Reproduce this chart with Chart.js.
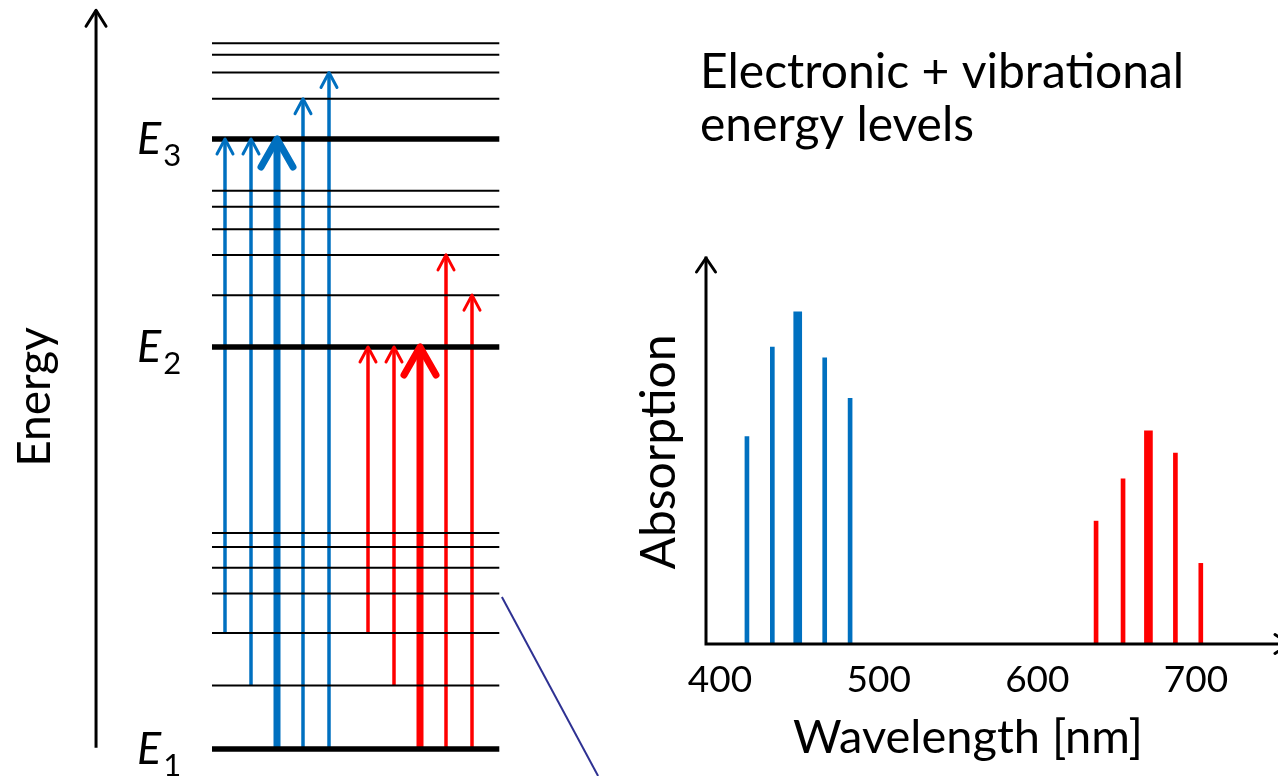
<!DOCTYPE html>
<html>
<head>
<meta charset="utf-8">
<script src="https://cdn.jsdelivr.net/npm/chart.js@4.4.1/dist/chart.umd.min.js"></script>
<style>
  html, body { margin: 0; padding: 0; background: #fff; }
  #wrap { position: relative; width: 1278px; height: 776px; overflow: hidden; }
  #levels { position: absolute; left: 0; top: 0; }
  #spectrum { position: absolute; left: 600px; top: 0; }
</style>
</head>
<body>
<div id="wrap">
  <canvas id="levels" width="600" height="776"></canvas>
  <canvas id="spectrum" width="678" height="776"></canvas>
</div>
<script>
// ---- energy diagram (arbitrary units, E1 = 0, E3 = 100) ----
const electronicLevels = [0, 65.9, 100];
const electronicNames = ['1', '2', '3'];
const vibrationalLevels = [10.4, 19.0, 25.5, 29.7, 33.1, 35.4,
                           74.4, 81.0, 85.2, 88.9, 91.5,
                           106.6, 110.9, 113.8, 115.7];

// transitions: column, start level, end level
const blueColumns = [0.5, 1.5, 2.5, 3.5, 4.5];
const blueFrom = [19.0, 10.4, 0, 0, 0];
const blueTo = [100, 100, 100, 106.6, 110.9];
const redColumns = [6, 7, 8, 9, 10];
const redFrom = [19.0, 10.4, 0, 0, 0];
const redTo = [65.9, 65.9, 65.9, 81.0, 74.4];
const strongest = 2;

// ---- absorption spectrum ----
const wavelengthTicks = [400, 500, 600, 700];
const blueWavelengths = [417, 433, 449, 466, 482];
const blueAbsorption = [54, 77.3, 86.5, 74.5, 64];
const redWavelengths = [637, 654, 670, 687, 703];
const redAbsorption = [32, 43, 55.5, 49.7, 21];

const BLUE = '#0070C0';
const RED = '#FF0000';
const NAVY = '#2E3192';
const FONT = 'Lato, "Open Sans", sans-serif';

const LINE_END = 11.05;     // right end of level lines (column units)
const AXIS_COL = -4.46;     // energy axis position
const AXIS_TOP = 121.1;

function segment(x1, y1, x2, y2, color, width, head) {
    return {
        data: [{x: x1, y: y1}, {x: x2, y: y2}],
        borderColor: color,
        borderWidth: width,
        showLine: true,
        pointRadius: 0,
        borderCapStyle: 'butt',
        head: head
    };
}

const thinHead = {w: 8, l: 15, lw: 3};
const thickHead = {w: 16, l: 28, lw: 7};

const levelSets = [];
electronicLevels.forEach(e => levelSets.push(segment(0, e, LINE_END, e, '#000', 5.5)));
vibrationalLevels.forEach(e => levelSets.push(segment(0, e, LINE_END, e, '#000', 2)));

const arrowSets = [];
blueColumns.forEach((c, i) => {
    const strong = i === strongest;
    arrowSets.push(segment(c, blueFrom[i], c, blueTo[i], BLUE, strong ? 7 : 3.5, strong ? thickHead : thinHead));
});
redColumns.forEach((c, i) => {
    const strong = i === strongest;
    arrowSets.push(segment(c, redFrom[i], c, redTo[i], RED, strong ? 7 : 3.5, strong ? thickHead : thinHead));
});

const extraSets = [
    segment(AXIS_COL, 0.2, AXIS_COL, AXIS_TOP, '#000', 3, {w: 10, l: 16, lw: 3}),
    segment(11.15, 24.9, 14.85, -4.43, NAVY, 2)
];

function drawHead(ctx, tip, tail, color, h) {
    const a = Math.atan2(tip.y - tail.y, tip.x - tail.x);
    const c = Math.cos(a), s = Math.sin(a);
    ctx.save();
    ctx.strokeStyle = color;
    ctx.lineWidth = h.lw;
    ctx.lineCap = 'round';
    ctx.lineJoin = 'round';
    ctx.beginPath();
    ctx.moveTo(tip.x - h.l * c - h.w * s, tip.y - h.l * s + h.w * c);
    ctx.lineTo(tip.x, tip.y);
    ctx.lineTo(tip.x - h.l * c + h.w * s, tip.y - h.l * s - h.w * c);
    ctx.stroke();
    ctx.restore();
}

const arrowHeads = {
    id: 'arrowHeads',
    afterDatasetsDraw(chart) {
        chart.data.datasets.forEach((ds, i) => {
            if (!ds.head) return;
            const pts = chart.getDatasetMeta(i).data;
            drawHead(chart.ctx, pts[pts.length - 1], pts[0], ds.borderColor, ds.head);
        });
    }
};

const levelLabels = {
    id: 'levelLabels',
    afterDraw(chart) {
        const ctx = chart.ctx;
        const y = chart.scales.y;
        ctx.save();
        ctx.fillStyle = '#000';
        ctx.textAlign = 'center';
        ctx.textBaseline = 'middle';
        ctx.translate(35, 397);
        ctx.rotate(-Math.PI / 2);
        ctx.font = '46px ' + FONT;
        ctx.fillText('Energy', 0, 0);
        ctx.restore();

        ctx.save();
        ctx.fillStyle = '#000';
        ctx.textAlign = 'left';
        ctx.textBaseline = 'alphabetic';
        electronicLevels.forEach((e, i) => {
            const py = y.getPixelForValue(e);
            ctx.font = 'italic 45px ' + FONT;
            ctx.fillText('E', 137, py + 15);
            const w = ctx.measureText('E').width;
            ctx.font = '31px ' + FONT;
            ctx.fillText(electronicNames[i], 137 + w + 2, py + 27);
        });
        ctx.restore();
    }
};

new Chart(document.getElementById('levels'), {
    type: 'scatter',
    data: {datasets: [...levelSets, ...arrowSets, ...extraSets]},
    options: {
        responsive: false,
        animation: false,
        layout: {padding: 0},
        plugins: {legend: {display: false}, tooltip: {enabled: false}},
        scales: {
            x: {type: 'linear', min: -8.1538, max: 14.923, display: false},
            y: {type: 'linear', min: -4.43, max: 122.79, display: false}
        }
    },
    plugins: [arrowHeads, levelLabels]
});

// ---- spectrum chart ----
function barSet(xs, ys, color, strong) {
    const data = [];
    xs.forEach((x, i) => {
        if ((i === strongest) === strong) data.push({x: x, y: ys[i]});
    });
    return {
        data: data,
        backgroundColor: color,
        borderWidth: 0,
        barThickness: strong ? 8 : 4,
        grouped: false
    };
}

const spectrumDecor = {
    id: 'spectrumDecor',
    afterDraw(chart) {
        const ctx = chart.ctx;
        const a = chart.chartArea;
        const tipX = a.right + 59;
        // both axes with arrow heads
        ctx.save();
        ctx.strokeStyle = '#000';
        ctx.lineWidth = 3;
        ctx.lineCap = 'square';
        ctx.beginPath();
        ctx.moveTo(a.left, a.top - 2);
        ctx.lineTo(a.left, a.bottom);
        ctx.lineTo(tipX, a.bottom);
        ctx.stroke();
        ctx.restore();
        drawHead(ctx, {x: tipX, y: a.bottom}, {x: a.left, y: a.bottom}, '#000', {w: 9.5, l: 14, lw: 3});
        drawHead(ctx, {x: a.left, y: a.top - 2}, {x: a.left, y: a.bottom}, '#000', {w: 9.5, l: 14, lw: 3});

        ctx.save();
        ctx.fillStyle = '#000';
        ctx.font = '48px ' + FONT;
        ctx.textAlign = 'left';
        ctx.textBaseline = 'alphabetic';
        ctx.fillText('Electronic + vibrational', a.left - 6, 88);
        ctx.fillText('energy levels', a.left - 6, 141);
        ctx.restore();
    }
};

new Chart(document.getElementById('spectrum'), {
    type: 'bar',
    data: {
        datasets: [
            barSet(blueWavelengths, blueAbsorption, BLUE, false),
            barSet(blueWavelengths, blueAbsorption, BLUE, true),
            barSet(redWavelengths, redAbsorption, RED, false),
            barSet(redWavelengths, redAbsorption, RED, true)
        ]
    },
    options: {
        responsive: false,
        animation: false,
        layout: {padding: {top: 260, right: 48, left: 0, bottom: 0}},
        plugins: {legend: {display: false}, tooltip: {enabled: false}},
        scales: {
            x: {
                type: 'linear',
                min: 391.2,
                max: 721.4,
                offset: false,
                grid: {display: false, drawTicks: false},
                border: {display: false},
                afterBuildTicks: s => { s.ticks = wavelengthTicks.map(v => ({value: v})); },
                ticks: {font: {family: FONT, size: 37}, color: '#000', padding: 14, maxRotation: 0, autoSkip: false},
                title: {display: true, text: 'Wavelength [nm]', color: '#000',
                        font: {family: FONT, size: 47}, padding: {top: 0, bottom: 10}},
                afterFit: s => { s.height = 132; }
            },
            y: {
                min: 0,
                max: 100,
                grid: {display: false, drawTicks: false},
                border: {display: false},
                ticks: {display: false},
                title: {display: true, text: 'Absorption', color: '#000',
                        font: {family: FONT, size: 48}, padding: {top: 31, bottom: 0}},
                afterFit: s => { s.width = 106; }
            }
        }
    },
    plugins: [spectrumDecor]
});
</script>
</body>
</html>
